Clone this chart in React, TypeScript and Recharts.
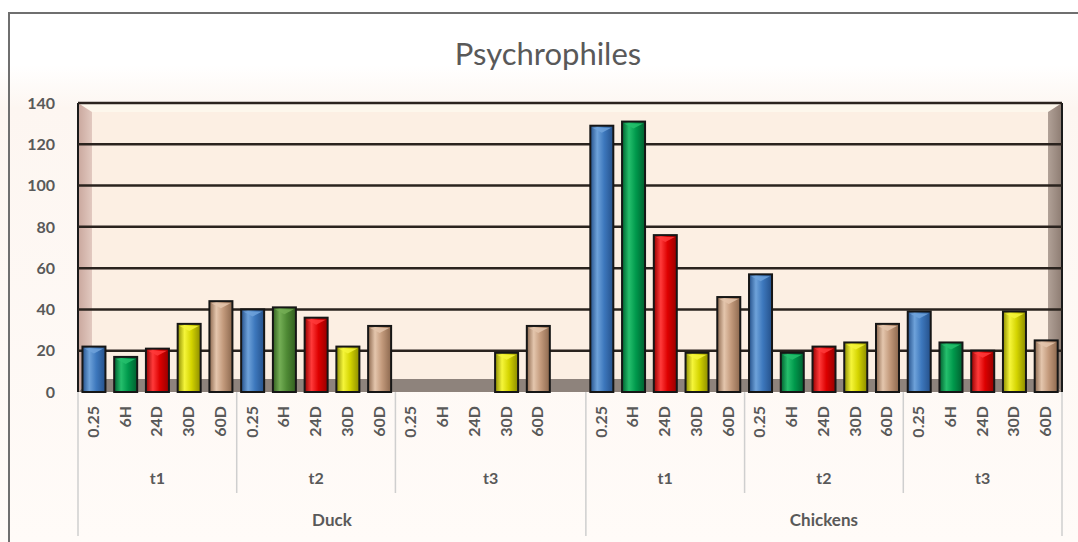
import React from 'react';
import { BarChart, Bar, XAxis, YAxis, CartesianGrid, Cell } from 'recharts';

// valores (Psychrophiles)
const ANIMALS = ['Duck', 'Chickens'];
const TIMES = ['t1', 't2', 't3'];
const TICKS = ['0.25', '6H', '24D', '30D', '60D'];

const DUCK_T1 = [22, 17, 21, 33, 44];
const DUCK_T2 = [40, 41, 36, 22, 32];
const DUCK_T3 = [null, null, null, 19, 32];
const CHICKENS_T1 = [129, 131, 76, 19, 46];
const CHICKENS_T2 = [57, 19, 22, 24, 33];
const CHICKENS_T3 = [39, 24, 20, 39, 25];

const Y_TICKS = [0, 20, 40, 60, 80, 100, 120, 140];

const W = 1078;
const H = 542;
const PLOT = { left: 78, top: 103, right: 1062, bottom: 392 };
const FONT = 'Lato, "Open Sans", sans-serif';

const PALETTE: Record<string, { base: string; light: string; dark: string }> = {
    blue: { base: '#3d78bd', light: '#6ea2da', dark: '#24508a' },
    green: { base: '#00994c', light: '#25bf6c', dark: '#00602f' },
    olive: { base: '#4f8a35', light: '#74ae55', dark: '#325e1f' },
    red: { base: '#dd0000', light: '#ff3a3a', dark: '#960000' },
    yellow: { base: '#d4d400', light: '#f5f53a', dark: '#8c8c00' },
    tan: { base: '#c39a7c', light: '#e4c6ad', dark: '#8c684e' },
};
const TICK_COLOR = ['blue', 'green', 'red', 'yellow', 'tan'];

type Row = {
    key: string;
    tick: string;
    time: string;
    animal: string;
    value: number | null;
    color: string;
    timeStart: boolean;
    timeSize: number;
    animalStart: boolean;
    animalSize: number;
};

const SERIES: Record<string, (number | null)[][]> = {
    Duck: [DUCK_T1, DUCK_T2, DUCK_T3],
    Chickens: [CHICKENS_T1, CHICKENS_T2, CHICKENS_T3],
};

const data: Row[] = [];
ANIMALS.forEach((animal, a) => {
    const start = data.length;
    TIMES.forEach((time, t) => {
        const tStart = data.length;
        TICKS.forEach((tick, i) => {
            let color = TICK_COLOR[i];
            if (animal === 'Duck' && time === 't2' && tick === '6H') color = 'olive';
            data.push({
                key: `${animal}-${time}-${tick}`, tick, time, animal,
                value: SERIES[animal][t][i], color,
                timeStart: false, timeSize: 0, animalStart: false, animalSize: 0,
            });
        });
        // la categoria vacia entre Duck y Chickens
        if (a === 0 && t === TIMES.length - 1) {
            data.push({
                key: `${animal}-${time}-blank`, tick: '', time, animal, value: null, color: 'blue',
                timeStart: false, timeSize: 0, animalStart: false, animalSize: 0,
            });
        }
        data[tStart].timeStart = true;
        data[tStart].timeSize = data.length - tStart;
    });
    data[start].animalStart = true;
    data[start].animalSize = data.length - start;
});

const BW = (PLOT.right - PLOT.left) / data.length;

function Bar3D(props: any) {
    const { x, y, width, height, payload } = props;
    if (!height || height <= 0) return null;
    const c = PALETTE[payload.color];
    const tri = Math.min(7, height);
    return (
        <g>
            <rect x={x} y={y} width={width} height={height} fill={`url(#grad-${payload.color})`} stroke="#161616" strokeWidth={2} />
            <polygon
                points={`${x + 2},${y + 2} ${x + width - 2},${y + 2} ${x + width / 2},${y + tri}`}
                fill={c.light}
                opacity={0.85}
            />
        </g>
    );
}

function XTick(props: any) {
    const { x, payload } = props;
    const row = data[payload.index];
    if (!row) return null;
    const left = x - BW / 2;
    const isLast = payload.index === data.length - 1;
    return (
        <g>
            {row.tick && (
                <text
                    x={x + 5}
                    y={406}
                    transform={`rotate(-90 ${x + 5} 406)`}
                    textAnchor="end"
                    fontSize={16}
                    fontWeight={700}
                    fill="#595959"
                    fontFamily={FONT}
                >
                    {row.tick}
                </text>
            )}
            {row.timeStart && (
                <>
                    <line x1={left} x2={left} y1={PLOT.bottom} y2={row.animalStart ? 536 : 493} stroke="#cfcfcf" strokeWidth={1.5} />
                    <text x={x + ((row.timeSize - 1) / 2) * BW} y={484} textAnchor="middle" fontSize={16} fontWeight={700} fill="#595959" fontFamily={FONT}>
                        {row.time}
                    </text>
                </>
            )}
            {row.animalStart && (
                <text x={x + ((row.animalSize - 1) / 2) * BW} y={526} textAnchor="middle" fontSize={17} fontWeight={700} fill="#595959" fontFamily={FONT}>
                    {row.animal}
                </text>
            )}
            {isLast && (
                <line x1={x + BW / 2} x2={x + BW / 2} y1={PLOT.bottom} y2={536} stroke="#cfcfcf" strokeWidth={1.5} />
            )}
        </g>
    );
}

function Backdrop() {
    const { left, top, right, bottom } = PLOT;
    const d = 14;
    return (
        <svg width={W} height={H} style={{ position: 'absolute', left: 0, top: 0 }}>
            <defs>
                <linearGradient id="bg" x1="0" y1="0" x2="0" y2="1">
                    <stop offset="0%" stopColor="#ffffff" />
                    <stop offset="12%" stopColor="#ffffff" />
                    <stop offset="20%" stopColor="#fdf6f1" />
                    <stop offset="100%" stopColor="#fffbf8" />
                </linearGradient>
                <linearGradient id="lwall" x1="0" y1="0" x2="1" y2="0">
                    <stop offset="0%" stopColor="#c9a79d" />
                    <stop offset="100%" stopColor="#e2c9c0" />
                </linearGradient>
                <linearGradient id="rwall" x1="0" y1="0" x2="1" y2="0">
                    <stop offset="0%" stopColor="#b1a197" />
                    <stop offset="100%" stopColor="#8d7c72" />
                </linearGradient>
            </defs>
            <rect x={0} y={0} width={W} height={H} fill="url(#bg)" />
            <rect x={9} y={13} width={W + 10} height={H + 10} fill="none" stroke="#6f6f6f" strokeWidth={2} />
            <rect x={left} y={top} width={right - left} height={bottom - top} fill="#fcefe3" />
            <polygon points={`${left},${top} ${right},${top} ${right - d},${top + 9} ${left + d},${top + 9}`} fill="#fdf7ec" />
            <polygon points={`${left},${top} ${left + d},${top + 9} ${left + d},${bottom - 13} ${left},${bottom}`} fill="url(#lwall)" />
            <polygon points={`${right},${top} ${right - d},${top + 9} ${right - d},${bottom - 13} ${right},${bottom}`} fill="url(#rwall)" />
            <polygon points={`${left},${bottom} ${left + d},${bottom - 13} ${right - d},${bottom - 13} ${right},${bottom}`} fill="#8e837c" />
            <line x1={left} x2={left} y1={top} y2={bottom} stroke="#1a1a1a" strokeWidth={2} />
            <line x1={right} x2={right} y1={top} y2={bottom} stroke="#1a1a1a" strokeWidth={2} />
            <text x={548} y={65} textAnchor="middle" fontSize={31} fill="#595959" fontFamily={FONT}>
                Psychrophiles
            </text>
        </svg>
    );
}

export default function App() {
    return (
        <div style={{ position: 'absolute', left: 0, top: 0, width: W, height: H }}>
            <Backdrop />
            <div style={{ position: 'absolute', left: 0, top: 0 }}>
                <BarChart
                    width={W}
                    height={H}
                    data={data}
                    margin={{ top: PLOT.top, right: W - PLOT.right, bottom: 0, left: 18 }}
                    barCategoryGap="14%"
                >
                    <defs>
                        {Object.entries(PALETTE).map(([name, c]) => (
                            <linearGradient key={name} id={`grad-${name}`} x1="0" y1="0" x2="1" y2="0">
                                <stop offset="0%" stopColor={c.dark} />
                                <stop offset="30%" stopColor={c.light} />
                                <stop offset="60%" stopColor={c.base} />
                                <stop offset="100%" stopColor={c.dark} />
                            </linearGradient>
                        ))}
                    </defs>
                    <CartesianGrid
                        vertical={false}
                        horizontalValues={[20, 40, 60, 80, 100, 120, 140]}
                        stroke="#2a231e"
                        strokeWidth={2.5}
                    />
                    <XAxis
                        dataKey="key"
                        interval={0}
                        height={H - PLOT.bottom}
                        axisLine={false}
                        tickLine={false}
                        tick={<XTick />}
                    />
                    <YAxis
                        width={60}
                        domain={[0, 140]}
                        ticks={Y_TICKS}
                        axisLine={false}
                        tickLine={false}
                        tickSize={0}
                        tickMargin={23}
                        tick={{ fontSize: 16, fontWeight: 700, fill: '#595959', fontFamily: FONT }}
                    />
                    <Bar dataKey="value" isAnimationActive={false} shape={<Bar3D />}>
                        {data.map((row) => (
                            <Cell key={row.key} fill={PALETTE[row.color].base} />
                        ))}
                    </Bar>
                </BarChart>
            </div>
        </div>
    );
}
